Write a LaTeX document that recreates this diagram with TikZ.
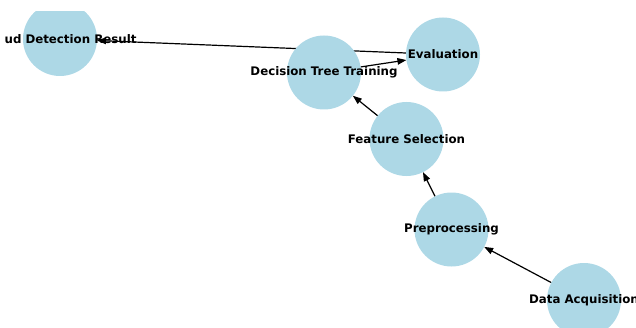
\documentclass[tikz,border=0pt]{standalone}
\usepackage{fontspec}
\setmainfont{DejaVu Sans}
\usetikzlibrary{arrows.meta}
\pgfdeclarelayer{background}
\pgfsetlayers{background,main}
\begin{document}
\begin{tikzpicture}[x=1pt,y=1pt,
  nodecirc/.style={circle,fill={rgb,255:red,173;green,216;blue,230},draw=none,minimum size=74pt,inner sep=0pt,outer sep=0pt},
  nodetext/.style={inner sep=0pt,font=\fontsize{11.8}{12}\selectfont\bfseries,text=black},
  edge/.style={line width=1.2pt,-{Triangle[length=9pt,width=6.5pt]}}]
\useasboundingbox (0,0) rectangle (636,327);
\clip (5,0) rectangle (636,315);
\node[nodecirc] (F) at (60,288) {};
\node[nodecirc] (E) at (443,272.5) {};
\node[nodecirc] (D) at (324,254.5) {};
\node[nodecirc] (S) at (406.5,188) {};
\node[nodecirc] (P) at (451.5,97.5) {};
\node[nodecirc] (A) at (584,27) {};
\begin{pgfonlayer}{background}
\draw[edge] (A) -- (P);
\draw[edge] (P) -- (S);
\draw[edge] (S) -- (D);
\draw[edge] (D) -- (E);
\draw[edge] (E) -- (F);
\end{pgfonlayer}
\node[nodetext] (Ft) at (F) {Fraud Detection Result};
\node[nodetext] (Et) at (E) {Evaluation};
\node[nodetext] (Dt) at (D) {Decision Tree Training};
\node[nodetext] (St) at (S) {Feature Selection};
\node[nodetext] (Pt) at (P) {Preprocessing};
\node[nodetext] (At) at (A) {Data Acquisition};
\end{tikzpicture}
\end{document}
